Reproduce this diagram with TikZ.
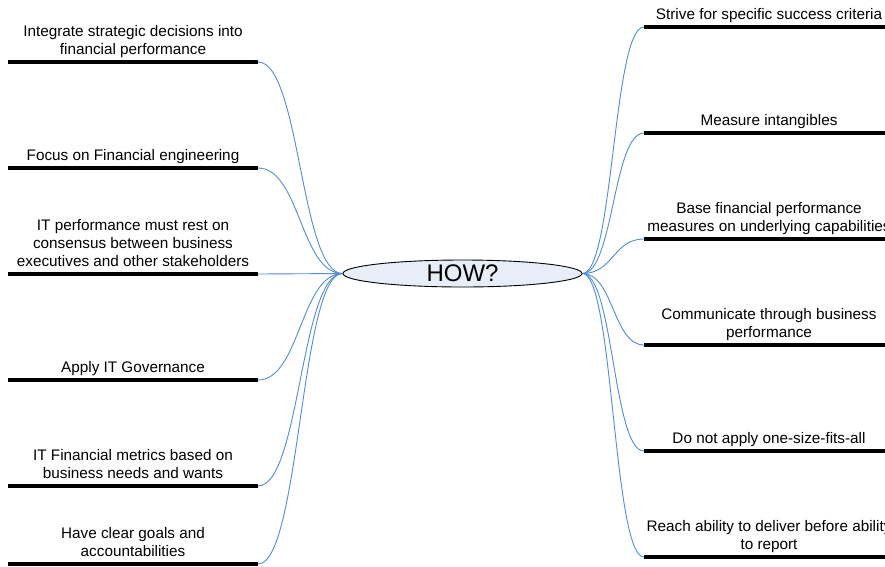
\documentclass[tikz,border=0pt]{standalone}
\usepackage{fontspec}
\setmainfont{Liberation Sans}
\usetikzlibrary{shapes.geometric,positioning,backgrounds}

\definecolor{linkblue}{RGB}{84,141,212}
\definecolor{hubfill}{RGB}{232,238,248}

\tikzset{
  hub/.style={ellipse, draw=black, line width=0.9pt, fill=hubfill,
    minimum width=239pt, minimum height=27pt, inner sep=0pt,
    font=\fontsize{24}{28}\selectfont},
  bar/.style={rectangle, fill=black, minimum width=250pt,
    minimum height=4pt, inner sep=0pt, outer sep=0pt},
  lbl/.style={align=center, inner sep=0pt, outer sep=0pt,
    font=\fontsize{15.3}{18.4}\selectfont,
    execute at end node={\vphantom{g}}},
  link/.style={draw=linkblue, line width=0.9pt},
}

\begin{document}
\begin{tikzpicture}[x=1pt, y=-1pt]
  \useasboundingbox (0,0) rectangle (885,566);
  \clip (0,0) rectangle (885,566);

  % central hub
  \node[hub] (how) at (462.5,273.5) {HOW?};

  % left branches
  \node[bar] (l1) at (133,62)  {};
  \node[bar] (l2) at (133,168) {};
  \node[bar] (l3) at (133,274) {};
  \node[bar] (l4) at (133,380) {};
  \node[bar] (l5) at (133,486) {};
  \node[bar] (l6) at (133,564) {};

  \node[lbl, above=2pt of l1] (tl1) {Integrate strategic decisions into\\financial performance};
  \node[lbl, above=2pt of l2] (tl2) {Focus on Financial engineering};
  \node[lbl, above=2pt of l3] (tl3) {IT performance must rest on\\consensus between business\\executives and other stakeholders};
  \node[lbl, above=2pt of l4] (tl4) {Apply IT Governance};
  \node[lbl, above=2pt of l5] (tl5) {IT Financial metrics based on\\business needs and wants};
  \node[lbl, above=2pt of l6] (tl6) {Have clear goals and\\accountabilities};

  % right branches (they run past the right edge)
  \node[bar] (r1) at (769,27)  {};
  \node[bar] (r2) at (769,133) {};
  \node[bar] (r3) at (769,239) {};
  \node[bar] (r4) at (769,345) {};
  \node[bar] (r5) at (769,451) {};
  \node[bar] (r6) at (769,557) {};

  \node[lbl, above=2pt of r1] (tr1) {Strive for specific success criteria};
  \node[lbl, above=2pt of r2] (tr2) {Measure intangibles};
  \node[lbl, above=2pt of r3] (tr3) {Base financial performance\\measures on underlying capabilities};
  \node[lbl, above=2pt of r4] (tr4) {Communicate through business\\performance};
  \node[lbl, above=2pt of r5] (tr5) {Do not apply one-size-fits-all};
  \node[lbl, above=2pt of r6] (tr6) {Reach ability to deliver before ability\\to report};

  % white page and connectors, behind the hub and bars
  \begin{scope}[on background layer]
    \fill[white] (0,0) rectangle (885,566);
    \foreach \b in {l1,l2,l3,l4,l5,l6}
      \draw[link] (\b.east) .. controls +(42,0) and +(-42,0) .. (how.west);
    \foreach \b in {r1,r2,r3,r4,r5,r6}
      \draw[link] (how.east) .. controls +(31,0) and +(-31,0) .. (\b.west);
  \end{scope}
\end{tikzpicture}
\end{document}
